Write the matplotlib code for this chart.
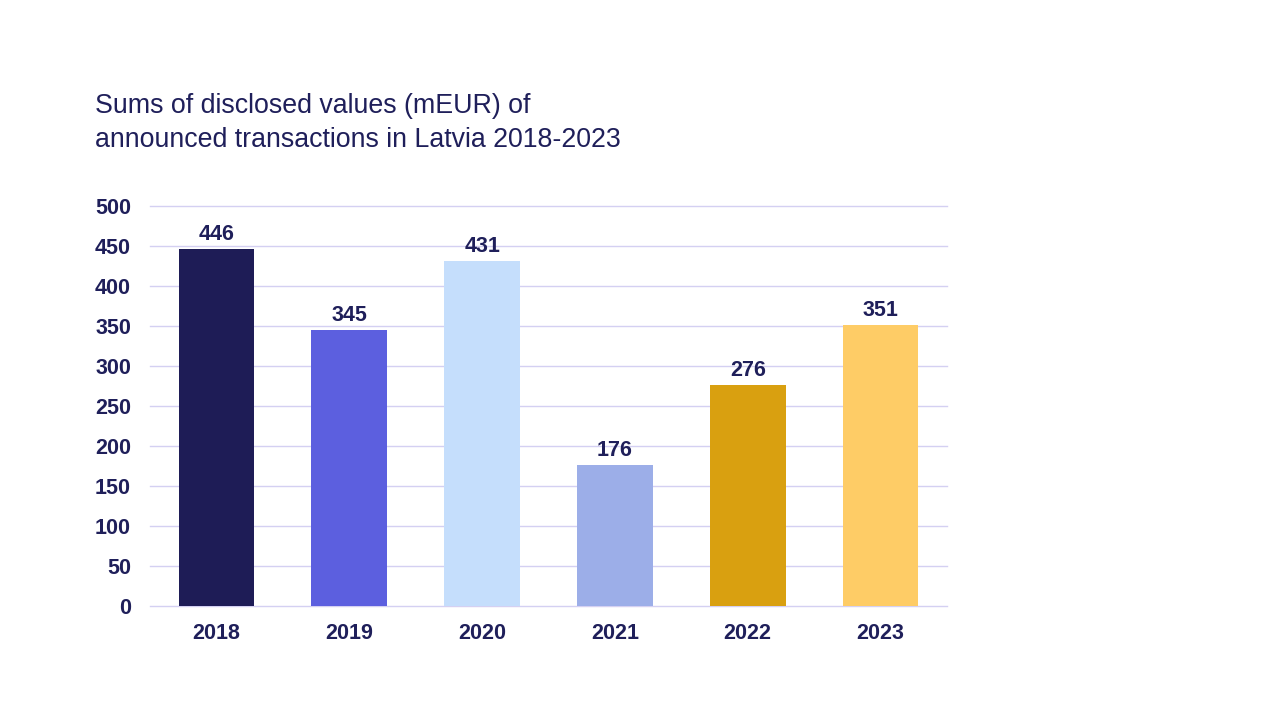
import matplotlib
matplotlib.use("Agg")
import matplotlib.pyplot as plt

years = ["2018", "2019", "2020", "2021", "2022", "2023"]
values = [446, 345, 431, 176, 276, 351]
colors = ["#1e1c56", "#5c5fdf", "#c5defc", "#9caee8", "#d9a010", "#fecc66"]
yticks = [0, 50, 100, 150, 200, 250, 300, 350, 400, 450, 500]
title = "Sums of disclosed values (mEUR) of\nannounced transactions in Latvia 2018-2023"

navy = "#1f1f5a"
plt.rcParams['font.family'] = ['Liberation Sans', 'DejaVu Sans']

fig = plt.figure(figsize=(12.8, 7.2), dpi=100)
ax = fig.add_axes([150/1280, 1-606/720, 797/1280, 400/720])

x = list(range(len(years)))
bars = ax.bar(x, values, width=0.57, color=colors, zorder=3)
for xi, v in zip(x, values):
    ax.annotate(str(v), (xi, v), xytext=(0, 3), textcoords="offset points",
                ha="center", va="bottom", fontsize=15.5, fontweight="bold", color=navy)

ax.set_xlim(-0.5, len(years) - 0.5)
ax.set_ylim(0, 500)
ax.set_yticks(yticks)
ax.set_yticklabels([str(t) for t in yticks])
ax.set_xticks(x)
ax.set_xticklabels(years)
ax.tick_params(axis="both", length=0, labelsize=15.5, labelcolor=navy)
ax.tick_params(axis="y", pad=13.7)
ax.tick_params(axis="x", pad=12)
for lbl in ax.get_xticklabels() + ax.get_yticklabels():
    lbl.set_fontweight("bold")
ax.grid(axis="y", color="#d4d0f2", linewidth=1, zorder=0)
for gl in ax.get_ygridlines():
    gl.set_clip_on(False)
for s in ax.spines.values():
    s.set_visible(False)

fig.text(95/1280, 1-123/720, title, ha="left", va="center", fontsize=19.3,
         color=navy, linespacing=1.36)

fig.savefig("out.png", dpi=100, facecolor="white")
